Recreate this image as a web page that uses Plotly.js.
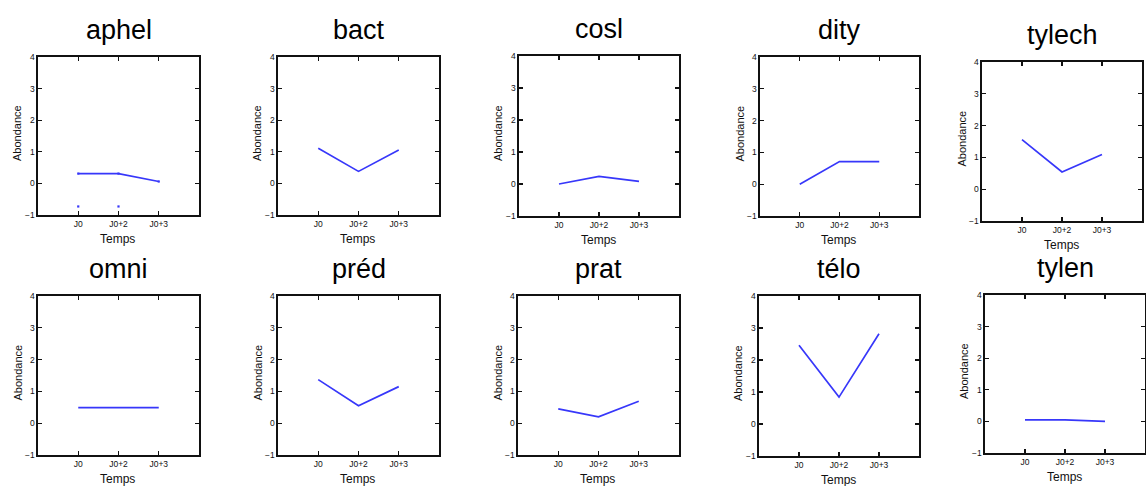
<!DOCTYPE html>
<html>
<head>
<meta charset="utf-8">
<script src="https://cdn.plot.ly/plotly-3.0.1.min.js"></script>
<style>html,body{margin:0;padding:0;background:#fff;}#chart{width:1146px;height:486px;}</style>
</head>
<body>
<div id="chart"></div>
<script>
// ---- data ----
const names = ["aphel", "bact", "cosl", "dity", "tylech", "omni", "préd", "prat", "télo", "tylen"];
const timeLabels = ["J0", "J0+2", "J0+3"];
const timePos = [1, 2, 3];
const aphel = [0.31, 0.31, 0.06];
const bact = [1.11, 0.38, 1.06];
const cosl = [0.0, 0.24, 0.08];
const dity = [0.0, 0.71, 0.71];
const tylech = [1.56, 0.54, 1.09];
const omni = [0.49, 0.49, 0.49];
const pred = [1.37, 0.55, 1.15];
const prat = [0.45, 0.2, 0.69];
const telo = [2.46, 0.84, 2.82];
const tylen = [0.05, 0.05, 0.0];
const aphelExtraX = [1, 2];
const aphelExtraY = [-0.73, -0.73];
const series = [aphel, bact, cosl, dity, tylech, omni, pred, prat, telo, tylen];

// ---- layout geometry (pixels) ----
const W = 1146, H = 486;
const boxes = [
  [38, 199, 57, 215], [278, 439, 57, 215], [519, 679, 56, 216], [760, 919, 57, 216], [982, 1142, 62, 221],
  [38, 199, 296, 455], [278, 439, 296, 455], [518, 679, 296, 455], [759, 919, 296, 456], [985, 1145, 295, 453]
];

const lineColor = "rgb(55,55,250)";
const data = [];
const layout = {
  width: W, height: H,
  margin: {l: 0, r: 0, t: 0, b: 0},
  paper_bgcolor: "#fff", plot_bgcolor: "#fff",
  showlegend: false,
  annotations: []
};
const fontFam = "Liberation Sans, Arial, sans-serif";

boxes.forEach((b, i) => {
  const k = i + 1;
  const xa = "x" + (k === 1 ? "" : k), ya = "y" + (k === 1 ? "" : k);
  data.push({
    x: timePos, y: series[i], xaxis: xa, yaxis: ya,
    type: "scatter", mode: "lines",
    line: {color: lineColor, width: 1.7},
    hoverinfo: "none"
  });
  const axCommon = {
    showline: true, linecolor: "#111", linewidth: 1.6, mirror: "ticks",
    ticks: "inside", ticklen: 4, tickcolor: "#111", tickwidth: 1.2,
    showgrid: false, zeroline: false, fixedrange: true,
    tickfont: {family: fontFam, size: 8.5, color: "#111"}
  };
  layout["xaxis" + (k === 1 ? "" : k)] = Object.assign({}, axCommon, {
    domain: [b[0] / W, b[1] / W], anchor: ya,
    range: [0, 4], tickmode: "array", tickvals: timePos, ticktext: timeLabels
  });
  layout["yaxis" + (k === 1 ? "" : k)] = Object.assign({}, axCommon, {
    domain: [1 - b[3] / H, 1 - b[2] / H], anchor: xa,
    range: [-1, 4], tickmode: "linear", tick0: 0, dtick: 1
  });
  const cx = (b[0] + b[1]) / 2;
  // title
  layout.annotations.push({
    text: names[i], xref: "paper", yref: "paper",
    x: cx / W, y: 1 - (b[2] - 10) / H, xanchor: "center", yanchor: "bottom",
    showarrow: false, font: {family: fontFam, size: 27, color: "#000"}
  });
  // x axis title
  layout.annotations.push({
    text: "Temps", xref: "paper", yref: "paper",
    x: (cx - 1) / W, y: 1 - (b[3] + 24) / H, xanchor: "center", yanchor: "middle",
    showarrow: false, font: {family: fontFam, size: 12, color: "#111"}
  });
  // y axis title
  layout.annotations.push({
    text: "Abondance", xref: "paper", yref: "paper",
    x: (b[0] - 21) / W, y: 1 - ((b[2] + b[3]) / 2 - 3) / H, xanchor: "center", yanchor: "middle",
    textangle: -90, showarrow: false, font: {family: fontFam, size: 11, color: "#111"}
  });
});

// small marks in first panel
data.push({
  x: aphelExtraX, y: aphelExtraY, xaxis: "x", yaxis: "y",
  type: "scatter", mode: "markers",
  marker: {color: lineColor, size: 2.2, symbol: "square"}, hoverinfo: "none"
});
data.push({
  x: timePos, y: aphel, xaxis: "x", yaxis: "y",
  type: "scatter", mode: "markers",
  marker: {color: lineColor, size: 2.2, symbol: "square"}, hoverinfo: "none"
});

Plotly.newPlot("chart", data, layout, {displayModeBar: false, staticPlot: true});
</script>
</body>
</html>
